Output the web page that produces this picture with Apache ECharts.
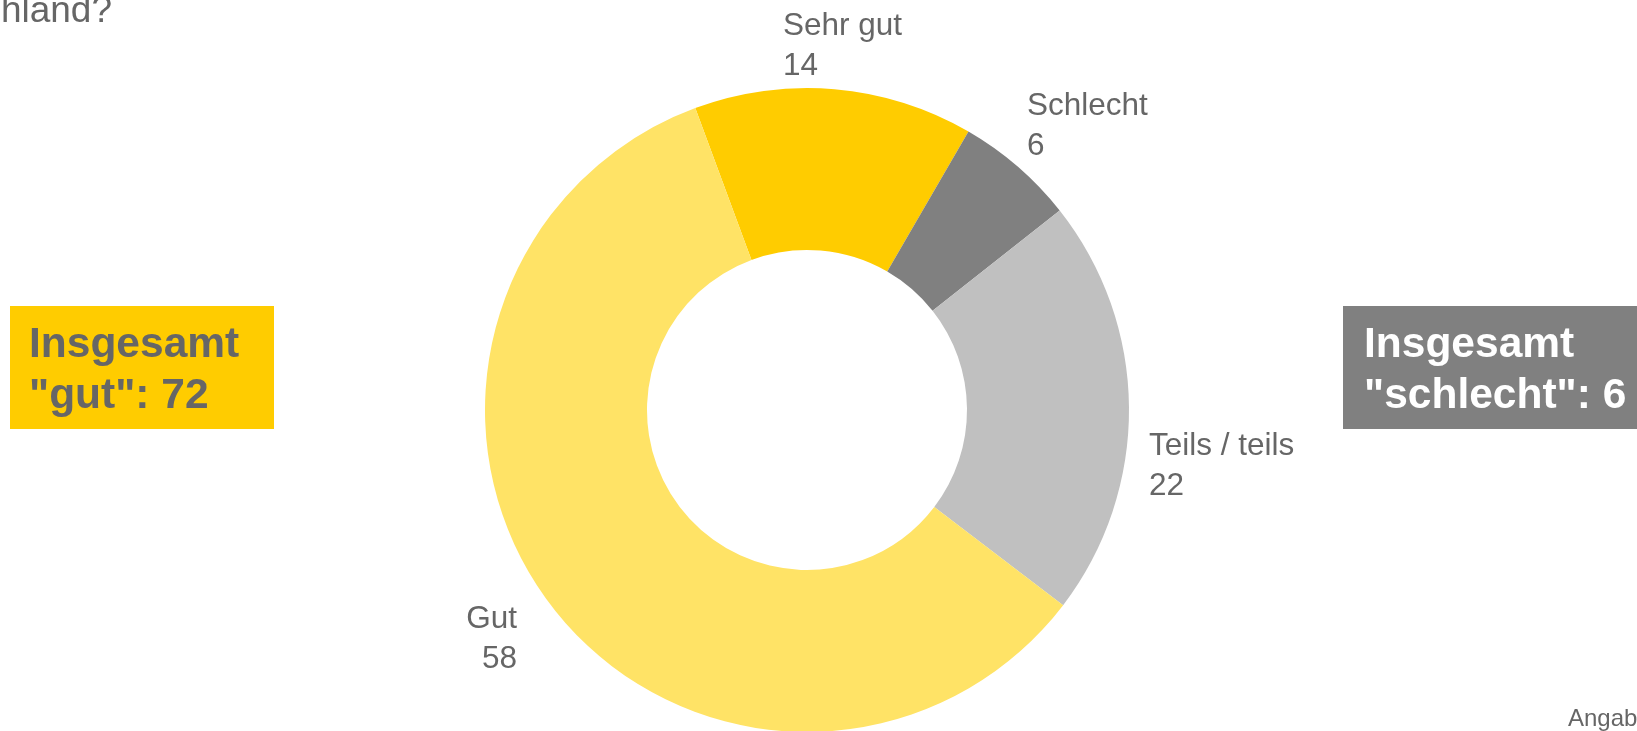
<!DOCTYPE html>
<html>
<head>
<meta charset="utf-8">
<script src="https://cdn.jsdelivr.net/npm/echarts@6/dist/echarts.min.js"></script>
<style>
  html, body { margin: 0; padding: 0; background: #ffffff; }
  #chart { width: 1637px; height: 731px; }
</style>
</head>
<body>
<div id="chart"></div>
<script>
// Categories in clockwise drawing order
const categories = ['Sehr gut', 'Schlecht', 'Teils / teils', 'Gut'];
const sliceShares = [14, 6, 21, 59];
// Values printed on the labels
const printedValues = [14, 6, 22, 58];
const colors = ['#FFCC00', '#808080', '#C0C0C0', '#FFE366'];

const summaryGood = ['Insgesamt', '"gut": 72'];
const summaryBad = ['Insgesamt', '"schlecht": 6'];
const questionText = 'Deutschland?';
const footnoteText = 'Angaben in Prozent';

const FONT = '"Liberation Sans", Arial, sans-serif';
const TEXT = '#666666';

// label anchor positions (layout only)
const labelPos = [
  [783, 6, 'left'],
  [1027, 86, 'left'],
  [1149, 426, 'left'],
  [517, 599, 'right']
];

const chart = echarts.init(document.getElementById('chart'), null, { renderer: 'canvas' });

const option = {
  backgroundColor: '#ffffff',
  animation: false,
  graphic: [
    {
      type: 'text',
      x: 112, y: 30,
      style: { text: questionText, fill: TEXT, font: '37px ' + FONT, textAlign: 'right', textVerticalAlign: 'bottom' },
      silent: true
    },
    {
      type: 'text',
      x: 1568, y: 731,
      style: { text: footnoteText, fill: TEXT, font: '24px ' + FONT, textAlign: 'left', textVerticalAlign: 'bottom' },
      silent: true
    },
    {
      type: 'rect',
      shape: { x: 10, y: 306, width: 264, height: 123 },
      style: { fill: '#FFCC00' },
      silent: true
    },
    {
      type: 'text',
      x: 29, y: 320,
      style: { text: summaryGood.join('\n'), fill: TEXT, font: 'bold 42.5px ' + FONT, lineHeight: 51, textAlign: 'left', textVerticalAlign: 'top' },
      silent: true
    },
    {
      type: 'rect',
      shape: { x: 1343, y: 306, width: 320, height: 123 },
      style: { fill: '#808080' },
      silent: true
    },
    {
      type: 'text',
      x: 1364, y: 320,
      style: { text: summaryBad.join('\n'), fill: '#ffffff', font: 'bold 42.5px ' + FONT, lineHeight: 51, textAlign: 'left', textVerticalAlign: 'top' },
      silent: true
    }
  ],
  series: [
    {
      type: 'pie',
      center: [807, 410],
      radius: [160, 322],
      startAngle: 110.3,
      clockwise: true,
      avoidLabelOverlap: false,
      silent: true,
      emphasis: { disabled: true },
      data: categories.map((c, i) => ({
        name: c,
        value: sliceShares[i],
        itemStyle: { color: colors[i] }
      })),
      label: {
        show: true,
        position: 'outside',
        formatter: (p) => p.name + '\n' + printedValues[p.dataIndex],
        color: TEXT,
        fontFamily: FONT,
        fontSize: 31.5,
        lineHeight: 40
      },
      labelLine: { show: false },
      labelLayout: function (params) {
        const p = labelPos[params.dataIndex];
        return { x: p[0], y: p[1], align: p[2], verticalAlign: 'top', hideOverlap: false };
      }
    }
  ]
};

chart.setOption(option);
</script>
</body>
</html>
